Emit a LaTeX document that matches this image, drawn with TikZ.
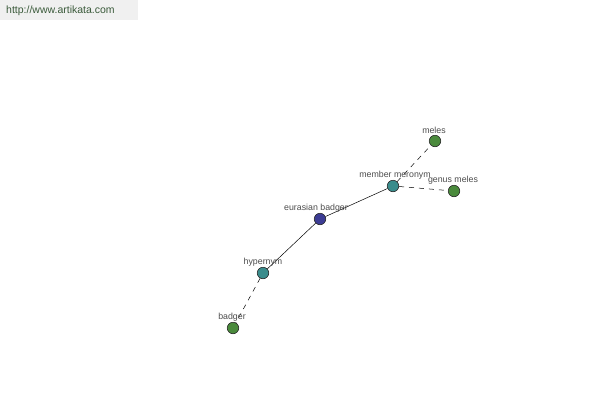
\documentclass[tikz,border=0pt]{standalone}
\usepackage{fontspec}
\setmainfont{Liberation Sans}
\definecolor{leafc}{HTML}{4A8A3C}
\definecolor{midc}{HTML}{3A8C8C}
\definecolor{rootc}{HTML}{3C3C94}
\definecolor{urlc}{HTML}{3A5A3A}
\begin{document}
\begin{tikzpicture}[x=1pt,y=-1pt,
  dot/.style={circle,draw=black!85,line width=0.6pt,minimum size=11.5pt,inner sep=0pt},
  leaf/.style={dot,fill=leafc},
  mid/.style={dot,fill=midc},
  root/.style={dot,fill=rootc},
  lbl/.style={font=\fontsize{8.8}{9}\selectfont,text=black!70,inner sep=0pt},
  rel/.style={draw=black,line width=0.5pt},
  reld/.style={rel,dash pattern=on 5pt off 5pt}]
\useasboundingbox (0,0) rectangle (600,400);
\fill[black!6] (0,0) rectangle (138,20);
\node[font=\fontsize{10.5}{11}\selectfont,text=urlc,anchor=west,inner sep=0pt] (url) at (6,10.5) {http://www.artikata.com};
\node[leaf] (meles) at (435,141) {};
\node[mid] (mm) at (393,186) {};
\node[leaf] (gm) at (454,191) {};
\node[root] (eb) at (320,219) {};
\node[mid] (hy) at (263,273) {};
\node[leaf] (bd) at (233,328) {};
\draw[reld] (mm) -- (meles);
\draw[reld] (mm) -- (gm);
\draw[rel] (eb) -- (mm);
\draw[rel] (eb) -- (hy);
\draw[reld] (hy) -- (bd);
\node[lbl] (l1) at (434,130) {meles};
\node[lbl] (l2) at (395,175) {member meronym};
\node[lbl] (l3) at (453,180) {genus meles};
\node[lbl] (l4) at (316,208) {eurasian badger};
\node[lbl] (l5) at (263,262) {hypernym};
\node[lbl] (l6) at (232,317) {badger};
\end{tikzpicture}
\end{document}
